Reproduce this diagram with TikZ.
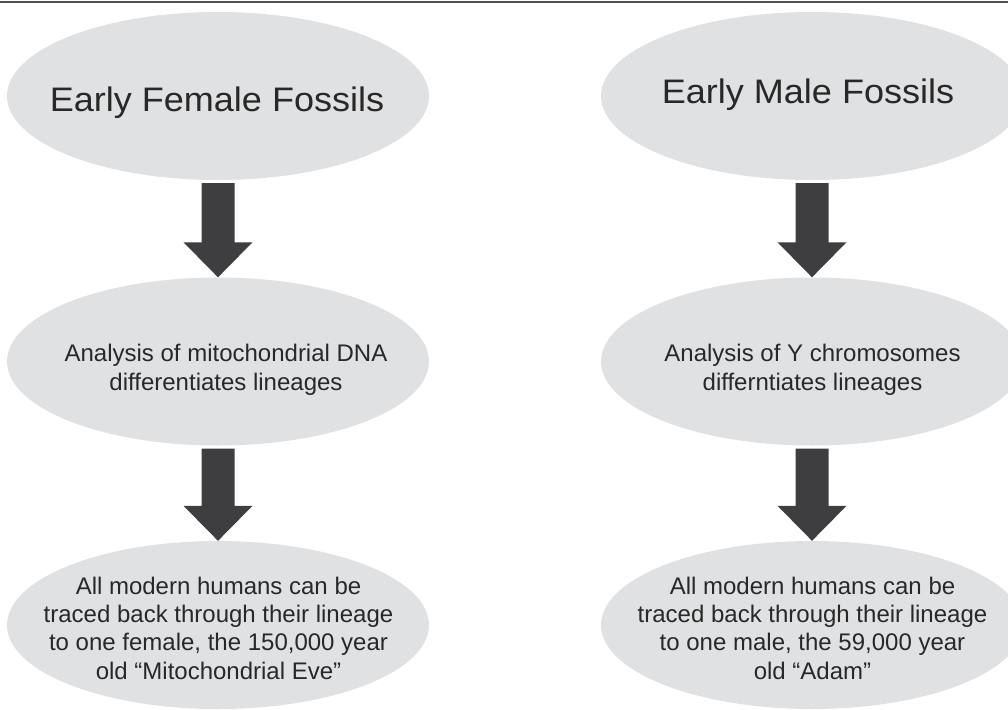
\documentclass[tikz,border=0pt]{standalone}
\usepackage{fontspec}
\setmainfont{Liberation Sans}
\usepackage{graphicx}
\usetikzlibrary{calc,shapes.geometric}
\definecolor{ovalfill}{RGB}{224,225,227}
\definecolor{arrowfill}{RGB}{62,62,64}
\definecolor{txtcol}{RGB}{40,40,40}
\definecolor{rulecol}{RGB}{80,80,80}
\begin{document}
\begin{tikzpicture}[x=1pt,y=1pt,
  oval/.style={ellipse, fill=ovalfill, minimum width=422pt, minimum height=168pt, inner sep=0pt},
  titletext/.style={anchor=base, inner sep=0pt, text=txtcol, font=\fontsize{34}{40}\selectfont},
  bodytext/.style={anchor=base, inner sep=0pt, text=txtcol, font=\fontsize{24}{28.4}\selectfont},
  blockarrow/.style={fill=arrowfill}]
\useasboundingbox (0,0) rectangle (1008,-709);
\clip (0,0) rectangle (1008,-709);
% top rule
\coordinate (ruleL) at (0,-2);
\coordinate (ruleR) at (1008,-2);
\draw[rulecol, line width=2pt] (ruleL) -- (ruleR);
% ovals
\node[oval] (f1) at (218,-96) {};
\node[oval] (f2) at (218,-361.5) {};
\node[oval] (f3) at (218,-625) {};
\node[oval] (m1) at (812,-96) {};
\node[oval] (m2) at (812,-361.5) {};
\node[oval] (m3) at (812,-625) {};
% texts
\node[titletext] (tf1) at (217,-111) {\scalebox{1.06}[1]{Early Female Fossils}};
\node[titletext] (tm1) at (808,-103) {\scalebox{1.06}[1]{Early Male Fossils}};
\node[bodytext] (tf2) at (226,-361.7) {\begin{tabular}[t]{@{}c@{}}Analysis of mitochondrial DNA\\differentiates lineages\end{tabular}};
\node[bodytext] (tm2) at (812.5,-361.7) {\begin{tabular}[t]{@{}c@{}}Analysis of Y chromosomes\\differntiates lineages\end{tabular}};
\node[bodytext] (tf3) at (218.5,-594) {\begin{tabular}[t]{@{}c@{}}All modern humans can be\\traced back through their lineage\\to one female, the 150,000 year\\old “Mitochondrial Eve”\end{tabular}};
\node[bodytext] (tm3) at (812.5,-594) {\begin{tabular}[t]{@{}c@{}}All modern humans can be\\traced back through their lineage\\to one male, the 59,000 year\\old “Adam”\end{tabular}};
% block arrows (from oval to oval)
\foreach \a/\b in {f1/f2,f2/f3,m1/m2,m2/m3}{
  \fill[blockarrow]
    ($(\a.south)+(-16.5,-3)$) -- ($(\a.south)+(16.5,-3)$)
    -- ($(\b.north)+(16.5,35)$) -- ($(\b.north)+(34.5,35)$)
    -- ($(\b.north)+(0,0)$)
    -- ($(\b.north)+(-34.5,35)$) -- ($(\b.north)+(-16.5,35)$) -- cycle;
}
\end{tikzpicture}
\end{document}
